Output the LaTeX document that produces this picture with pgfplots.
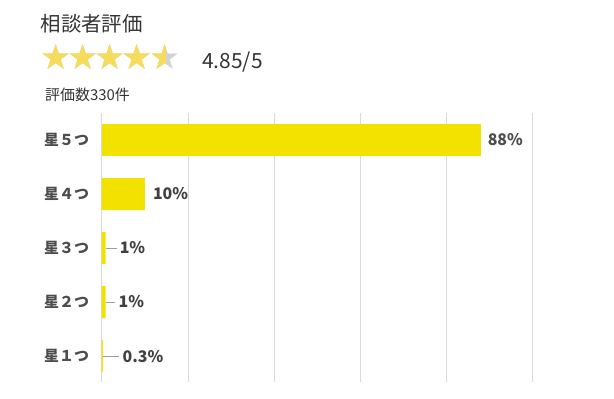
\documentclass[border=0pt]{standalone}
\usepackage{fontspec}
\setmainfont{Noto Sans CJK JP}
\newfontfamily\starfont{DejaVu Sans}
\usepackage{pgfplots}
\usepackage{pgfplotstable}
\pgfplotsset{compat=1.18}
\definecolor{baryellow}{HTML}{F3E200}
\definecolor{staryellow}{HTML}{F5DC5A}
\definecolor{stargray}{HTML}{D3D3D3}
\definecolor{txtdark}{HTML}{333333}
\definecolor{catgray}{HTML}{4D4D4D}
\definecolor{valgray}{HTML}{404040}
\definecolor{gridgray}{HTML}{D9D9D9}

\pgfplotstableread{
y x off lab
5 87.9 7.0 88
}\ratingsA
\pgfplotstableread{
y x off lab
4 10.0 8.0 10
3 0.9 14.0 1
2 0.9 12.8 1
1 0.3 19.5 0.3
}\ratingsB

\newcommand\stars{★\kern-4bp★\kern-4bp★\kern-4bp★\kern-4bp★}

\begin{document}
\begin{tikzpicture}
\path[use as bounding box] (0,0) rectangle (614bp,-399bp);
% header
\node[anchor=base west, inner sep=0, text=txtdark, font=\fontsize{20.5}{24}\selectfont] at (40.5bp,-31bp) {相談者評価};
\node[anchor=west, inner sep=0, text=stargray, font=\starfont\fontsize{35}{35}\selectfont] at (40bp,-56.5bp) {\stars};
\begin{scope}
\clip (30bp,-30bp) rectangle (165bp,-80bp);
\node[anchor=west, inner sep=0, text=staryellow, font=\starfont\fontsize{35}{35}\selectfont] at (40bp,-56.5bp) {\stars};
\end{scope}
\node[anchor=base west, inner sep=0, text=txtdark, font=\fontsize{21}{24}\selectfont] at (202bp,-68bp) {4.85/5};
\node[anchor=base west, inner sep=0, text=txtdark, font=\fontsize{15}{18}\selectfont] at (45bp,-100.5bp) {評価数330件};

\begin{axis}[
  at={(101.7bp,-382bp)}, anchor=south west,
  scale only axis, width=431bp, height=269bp,
  xbar, bar width=32bp, bar shift=0pt,
  xmin=0, xmax=100, ymin=0.52, ymax=5.5,
  xtick={0,20,40,60,80,100}, xticklabels={},
  xmajorgrids, grid style={color=gridgray, line width=0.7bp},
  ytick={1,2,3,4,5},
  yticklabels={星１つ,星２つ,星３つ,星４つ,星５つ},
  yticklabel style={inner sep=0, xshift=-12.5bp, text=catgray, font=\bfseries\fontsize{15}{18}\selectfont},
  major tick length=0,
  axis line style={draw=none},
  tick style={draw=none},
  clip=false,
  point meta=explicit symbolic,
  visualization depends on={\thisrow{off} \as \myoff},
  nodes near coords={\pgfplotspointmeta\%},
  every node near coord/.append style={anchor=west, inner sep=0, xshift=\myoff bp, text=valgray},
]
\addplot[fill=baryellow, draw=none, every node near coord/.append style={font=\bfseries\fontsize{16}{18}\selectfont, text=catgray}] table[x=x, y=y, meta=lab] {\ratingsA};
\addplot[fill=baryellow, draw=none, every node near coord/.append style={font=\bfseries\fontsize{16}{18}\selectfont}] table[x=x, y=y, meta=lab] {\ratingsB};
\draw[color=gray!75, line width=0.6bp] ([xshift=0.5bp]axis cs:0.9,3) -- ([xshift=11.5bp]axis cs:0.9,3);
\draw[color=gray!75, line width=0.6bp] ([xshift=0.8bp]axis cs:0.9,2) -- ([xshift=9.8bp]axis cs:0.9,2);
\draw[color=gray!75, line width=0.6bp] ([xshift=0.5bp]axis cs:0.3,1) -- ([xshift=16bp]axis cs:0.3,1);
\end{axis}
\end{tikzpicture}
\end{document}
